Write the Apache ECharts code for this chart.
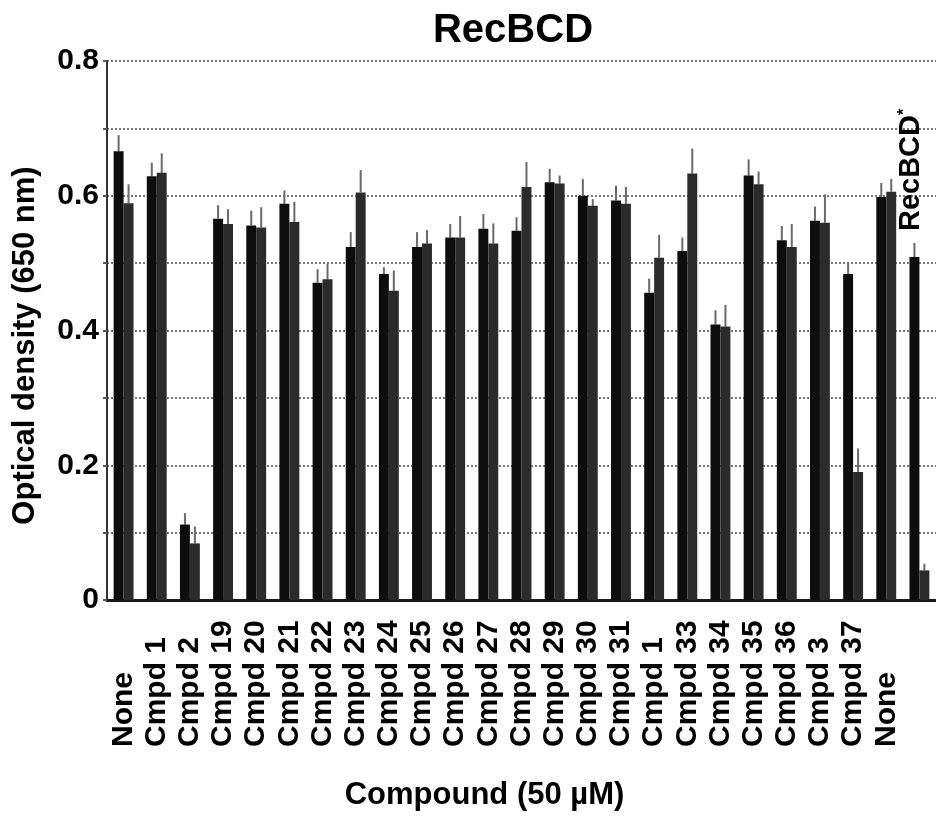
<!DOCTYPE html>
<html>
<head>
<meta charset="utf-8">
<script src="https://cdn.jsdelivr.net/npm/echarts@6/dist/echarts.min.js"></script>
<style>
  html, body { margin: 0; padding: 0; background: #fff; }
  #chart { width: 936px; height: 829px; }
</style>
</head>
<body>
<div id="chart"></div>
<script>
// Compounds tested (50 µM); the last column is the RecBCD* control
const categories = ['None', 'Cmpd 1', 'Cmpd 2', 'Cmpd 19', 'Cmpd 20', 'Cmpd 21', 'Cmpd 22',
  'Cmpd 23', 'Cmpd 24', 'Cmpd 25', 'Cmpd 26', 'Cmpd 27', 'Cmpd 28', 'Cmpd 29', 'Cmpd 30',
  'Cmpd 31', 'Cmpd 1', 'Cmpd 33', 'Cmpd 34', 'Cmpd 35', 'Cmpd 36', 'Cmpd 3', 'Cmpd 37',
  'None', 'RecBCD*'];

// Optical density at 650 nm, replicate A and replicate B
const odFirst = [0.666, 0.629, 0.112, 0.566, 0.556, 0.588, 0.471, 0.524, 0.484, 0.524,
  0.538, 0.551, 0.548, 0.620, 0.600, 0.593, 0.456, 0.518, 0.409, 0.630, 0.534, 0.563,
  0.484, 0.598, 0.509];
const odSecond = [0.589, 0.634, 0.084, 0.558, 0.553, 0.561, 0.476, 0.605, 0.459, 0.529,
  0.538, 0.529, 0.613, 0.618, 0.585, 0.588, 0.508, 0.633, 0.406, 0.617, 0.524, 0.560,
  0.190, 0.606, 0.044];

// Standard deviations
const errFirst = [0.024, 0.020, 0.017, 0.020, 0.022, 0.020, 0.020, 0.022, 0.010, 0.022,
  0.020, 0.022, 0.020, 0.020, 0.025, 0.022, 0.021, 0.020, 0.021, 0.024, 0.021, 0.021,
  0.018, 0.021, 0.021];
const errSecond = [0.028, 0.029, 0.025, 0.022, 0.030, 0.030, 0.023, 0.033, 0.030, 0.020,
  0.032, 0.030, 0.037, 0.012, 0.010, 0.025, 0.034, 0.037, 0.032, 0.019, 0.034, 0.042,
  0.035, 0.019, 0.010];

const FONT = '"Liberation Sans", Arial, sans-serif';
const BAR_SHIFT = 0.15; // half of one bar's share of the category band

const lastIdx = categories.length - 1;

const firstData = odFirst.map((v, i) => {
  if (i !== lastIdx) return v;
  return {
    value: v,
    label: {
      show: true,
      position: 'top',
      distance: 26,
      rotate: 90,
      align: 'left',
      verticalAlign: 'middle',
      padding: [0, 0, 6, 0],
      formatter: () => '{m|' + categories[lastIdx].replace('*', '') + '}{s|*}',
      rich: {
        m: { fontFamily: FONT, fontWeight: 'bold', fontSize: 29, color: '#000' },
        s: { fontFamily: FONT, fontWeight: 'bold', fontSize: 16, color: '#000', verticalAlign: 'top', padding: [0, 0, 14, 0] }
      }
    }
  };
});

function errorSeries(values, errors, sign) {
  return {
    type: 'custom',
    silent: true,
    z: 1,
    data: values.map((v, i) => [i, v, errors[i]]),
    renderItem: function (params, api) {
      const i = api.value(0);
      const v = api.value(1);
      const e = api.value(2);
      const band = api.size([1, 0])[0];
      const base = api.coord([i, v]);
      const top = api.coord([i, v + e]);
      const x = base[0] + sign * band * BAR_SHIFT;
      return {
        type: 'line',
        shape: { x1: x, y1: base[1], x2: x, y2: top[1] },
        style: { stroke: '#6a6a6a', lineWidth: 2 }
      };
    }
  };
}

const chart = echarts.init(document.getElementById('chart'), null, { renderer: 'canvas' });

chart.setOption({
  backgroundColor: '#fff',
  animation: false,
  title: {
    text: 'RecBCD',
    left: 508,
    top: 6,
    textAlign: 'center',
    textStyle: { fontFamily: FONT, fontWeight: 'bold', fontSize: 40, color: '#000' }
  },
  grid: { left: 107, right: -6, top: 61, bottom: 229, containLabel: false },
  xAxis: {
    type: 'category',
    data: categories,
    name: 'Compound (50 µM)',
    nameLocation: 'middle',
    nameGap: 180,
    nameTextStyle: { fontFamily: FONT, fontWeight: 'bold', fontSize: 31, color: '#000', padding: [0, 74, 0, 0] },
    axisLine: { show: true, lineStyle: { color: '#1a1a1a', width: 3 } },
    axisTick: { show: false },
    axisLabel: {
      interval: 0,
      rotate: 90,
      align: 'left',
      margin: 147,
      padding: [0, 0, 12, 0],
      fontFamily: FONT,
      fontWeight: 'bold',
      fontSize: 30,
      color: '#000',
      formatter: (v, i) => (i === lastIdx ? '' : v)
    },
    splitLine: { show: false }
  },
  yAxis: {
    type: 'value',
    min: 0,
    max: 0.8,
    interval: 0.1,
    name: 'Optical density (650 nm)',
    nameLocation: 'middle',
    nameGap: 66,
    nameTextStyle: { fontFamily: FONT, fontWeight: 'bold', fontSize: 31, color: '#000', padding: [0, 30, 0, 0] },
    axisLine: { show: true, lineStyle: { color: '#333', width: 2 } },
    axisTick: { show: true, length: 4, lineStyle: { color: '#555', width: 2 } },
    axisLabel: {
      margin: 8,
      fontFamily: FONT,
      fontWeight: 'bold',
      fontSize: 30,
      color: '#000',
      formatter: (v) => {
        const t = Math.round(v * 10);
        if (t % 2 !== 0) return '';
        return t === 0 ? '0' : (t / 10).toFixed(1);
      }
    },
    splitLine: { show: true, lineStyle: { color: '#777', width: 2, type: [2, 2] } }
  },
  series: [
    {
      type: 'bar',
      data: firstData,
      barCategoryGap: '40%',
      barGap: '0%',
      itemStyle: { color: '#0d0d0d' },
      z: 2
    },
    {
      type: 'bar',
      data: odSecond,
      barCategoryGap: '40%',
      barGap: '0%',
      itemStyle: { color: '#2b2b2b' },
      z: 2
    },
    errorSeries(odFirst, errFirst, -1),
    errorSeries(odSecond, errSecond, 1)
  ]
});
</script>
</body>
</html>
